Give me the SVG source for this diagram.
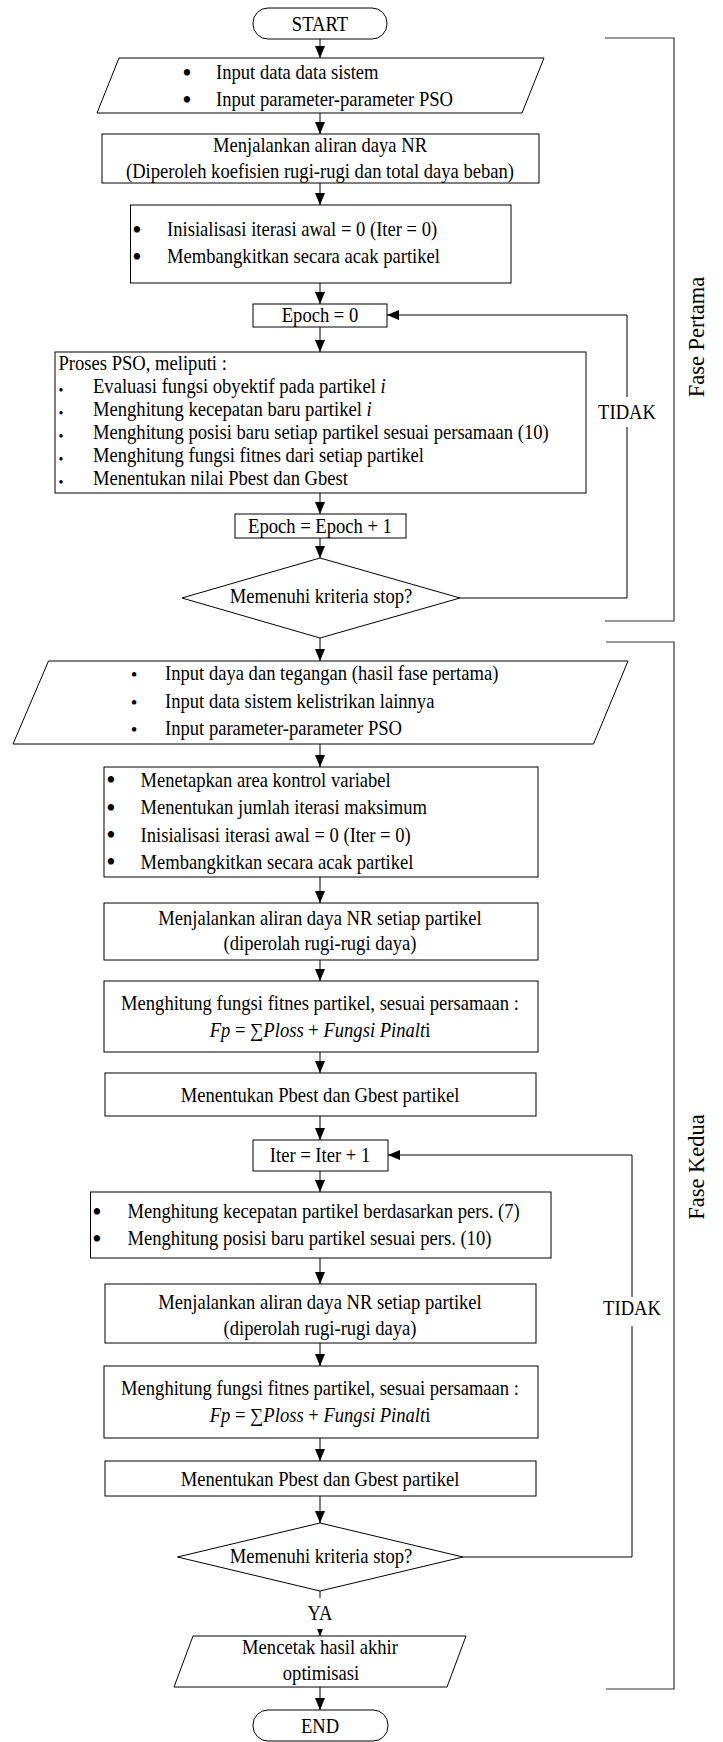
<svg xmlns="http://www.w3.org/2000/svg" width="723" height="1742" viewBox="0 0 723 1742">
<style>
.t{font-family:"Liberation Serif","Times New Roman",serif;font-size:20px;fill:#000}
.c{text-anchor:middle}
.i{font-style:italic}
.b{fill:#fff;stroke:#000;stroke-width:1}
.ln{fill:none;stroke:#000;stroke-width:1}
.br{fill:none;stroke:#333;stroke-width:1.2}
.bg{fill:#fff;stroke:none}
.f{font-family:"Liberation Serif","Times New Roman",serif;font-size:22.5px;fill:#000;text-anchor:middle}
.u1{font-size:26.5px}
.u2{font-size:26.5px}
.u3{font-size:19px}
.u4{font-size:14px}
</style>
<defs>
<marker id="ah" viewBox="0 0 12 10" markerWidth="12" markerHeight="10" refX="12" refY="5" orient="auto" markerUnits="userSpaceOnUse">
<path d="M0,0 L12,5 L0,10 z" fill="#000"/>
</marker>
</defs>
<rect width="723" height="1742" fill="#fff"/>

<g id="connectors">
<line class="ln" x1="320" y1="39" x2="320" y2="58" marker-end="url(#ah)"/>
<line class="ln" x1="320" y1="113" x2="320" y2="134" marker-end="url(#ah)"/>
<line class="ln" x1="320" y1="183" x2="320" y2="205" marker-end="url(#ah)"/>
<line class="ln" x1="320" y1="283" x2="320" y2="304" marker-end="url(#ah)"/>
<line class="ln" x1="320" y1="327" x2="320" y2="352" marker-end="url(#ah)"/>
<line class="ln" x1="320" y1="493" x2="320" y2="514" marker-end="url(#ah)"/>
<line class="ln" x1="320" y1="538" x2="320" y2="558" marker-end="url(#ah)"/>
<polyline class="ln" points="460,598 627,598 627,315 387,315" marker-end="url(#ah)"/>
<line class="ln" x1="320" y1="638" x2="320" y2="661" marker-end="url(#ah)"/>
<line class="ln" x1="320" y1="744" x2="320" y2="767" marker-end="url(#ah)"/>
<line class="ln" x1="320" y1="877" x2="320" y2="903" marker-end="url(#ah)"/>
<line class="ln" x1="320" y1="960" x2="320" y2="981" marker-end="url(#ah)"/>
<line class="ln" x1="320" y1="1052" x2="320" y2="1073" marker-end="url(#ah)"/>
<line class="ln" x1="320" y1="1116" x2="320" y2="1140" marker-end="url(#ah)"/>
<line class="ln" x1="320" y1="1171" x2="320" y2="1192" marker-end="url(#ah)"/>
<line class="ln" x1="320" y1="1258" x2="320" y2="1284" marker-end="url(#ah)"/>
<line class="ln" x1="320" y1="1343" x2="320" y2="1366" marker-end="url(#ah)"/>
<line class="ln" x1="320" y1="1438" x2="320" y2="1461" marker-end="url(#ah)"/>
<line class="ln" x1="320" y1="1496" x2="320" y2="1523" marker-end="url(#ah)"/>
<polyline class="ln" points="463,1557 632,1557 632,1155 388,1155" marker-end="url(#ah)"/>
<line class="ln" x1="320" y1="1591" x2="320" y2="1636" marker-end="url(#ah)"/>
<line class="ln" x1="320" y1="1687" x2="320" y2="1710" marker-end="url(#ah)"/>
<rect class="bg" x="598" y="397" width="58" height="30"/>
<text class="t c" transform="matrix(.93 0 0 1 627 419)">TIDAK</text>
<rect class="bg" x="603" y="1297" width="58" height="29"/>
<text class="t c" transform="matrix(.93 0 0 1 632 1315)">TIDAK</text>
<rect class="bg" x="305" y="1598" width="30" height="31"/>
<text class="t c" transform="matrix(.93 0 0 1 320 1620)">YA</text>
</g>

<g id="start">
<rect class="b" x="253" y="8" width="134" height="31" rx="15" ry="15"/>
<text class="t c" transform="matrix(.93 0 0 1 320 30.5)">START</text>
</g>

<g id="input1">
<polygon class="b" points="119,58 544,58 522,113 97,113"/>
<text class="t c u1"><tspan x="187" y="82">•</tspan><tspan x="187" y="109">•</tspan></text>
<text class="t" transform="matrix(.93 0 0 1 216 79)">Input data data sistem</text>
<text class="t" transform="matrix(.93 0 0 1 216 106)">Input parameter-parameter PSO</text>
</g>

<g id="nr1">
<rect class="b" x="102" y="134" width="437" height="49"/>
<text class="t c" transform="matrix(.93 0 0 1 320 152)">Menjalankan aliran daya NR</text>
<text class="t c" transform="matrix(.93 0 0 1 320 178)">(Diperoleh koefisien rugi-rugi dan total daya beban)</text>
</g>

<g id="init1">
<rect class="b" x="130.5" y="205" width="380.5" height="78"/>
<text class="t c u1"><tspan x="137" y="239">•</tspan><tspan x="137" y="266">•</tspan></text>
<text class="t" transform="matrix(.93 0 0 1 167 236)">Inisialisasi iterasi awal = 0 (Iter = 0)</text>
<text class="t" transform="matrix(.93 0 0 1 167 263)">Membangkitkan secara acak partikel</text>
</g>

<g id="epoch0">
<rect class="b" x="253" y="304" width="134" height="23"/>
<text class="t c" transform="matrix(.93 0 0 1 320 322)">Epoch = 0</text>
</g>

<g id="pso">
<rect class="b" x="55" y="352" width="531" height="141"/>
<text class="t" transform="matrix(.93 0 0 1 58.5 370)">Proses PSO, meliputi :</text>
<text class="t c u4"><tspan x="61" y="395">•</tspan><tspan x="61" y="418">•</tspan><tspan x="61" y="441">•</tspan><tspan x="61" y="464">•</tspan><tspan x="61" y="487">•</tspan></text>
<text class="t" transform="matrix(.93 0 0 1 93 393)">Evaluasi fungsi obyektif pada partikel <tspan class="i">i</tspan></text>
<text class="t" transform="matrix(.93 0 0 1 93 416)">Menghitung kecepatan baru partikel <tspan class="i">i</tspan></text>
<text class="t" transform="matrix(.93 0 0 1 93 439)">Menghitung posisi baru setiap partikel sesuai persamaan (10)</text>
<text class="t" transform="matrix(.93 0 0 1 93 462)">Menghitung fungsi fitnes dari setiap partikel</text>
<text class="t" transform="matrix(.93 0 0 1 93 485)">Menentukan nilai Pbest dan Gbest</text>
</g>

<g id="epoch1">
<rect class="b" x="235" y="514" width="171" height="24"/>
<text class="t c" transform="matrix(.93 0 0 1 320 532.5)">Epoch = Epoch + 1</text>
</g>

<g id="stop1">
<polygon class="b" points="320,558 460,598 320,638 182,598"/>
<text class="t c" transform="matrix(.93 0 0 1 321 603)">Memenuhi kriteria stop?</text>
</g>

<g id="input2">
<polygon class="b" points="48.5,661 628,661 593.5,744 13,744"/>
<text class="t c u3"><tspan x="134" y="681">•</tspan><tspan x="134" y="709">•</tspan><tspan x="134" y="736">•</tspan></text>
<text class="t" transform="matrix(.93 0 0 1 165 680)">Input daya dan tegangan (hasil fase pertama)</text>
<text class="t" transform="matrix(.93 0 0 1 165 707.5)">Input data sistem kelistrikan lainnya</text>
<text class="t" transform="matrix(.93 0 0 1 165 734.5)">Input parameter-parameter PSO</text>
</g>

<g id="init2">
<rect class="b" x="104" y="767" width="434" height="110"/>
<text class="t c u2"><tspan x="111" y="789">•</tspan><tspan x="111" y="816.5">•</tspan><tspan x="111" y="844">•</tspan><tspan x="111" y="871">•</tspan></text>
<text class="t" transform="matrix(.93 0 0 1 140.5 786.5)">Menetapkan area kontrol variabel</text>
<text class="t" transform="matrix(.93 0 0 1 140.5 814)">Menentukan jumlah iterasi maksimum</text>
<text class="t" transform="matrix(.93 0 0 1 140.5 841.5)">Inisialisasi iterasi awal = 0 (Iter = 0)</text>
<text class="t" transform="matrix(.93 0 0 1 140.5 868.5)">Membangkitkan secara acak partikel</text>
</g>

<g id="nr2">
<rect class="b" x="104" y="903" width="434" height="57"/>
<text class="t c" transform="matrix(.93 0 0 1 320 924.5)">Menjalankan aliran daya NR setiap partikel</text>
<text class="t c" transform="matrix(.93 0 0 1 320 950)">(diperolah rugi-rugi daya)</text>
</g>

<g id="fit1">
<rect class="b" x="104" y="981" width="434" height="71"/>
<text class="t c" transform="matrix(.93 0 0 1 320 1009.5)">Menghitung fungsi fitnes partikel, sesuai persamaan :</text>
<text class="t c" transform="matrix(.93 0 0 1 320 1036.5)"><tspan class="i">Fp</tspan> = ∑<tspan class="i">Ploss</tspan> + <tspan class="i">Fungsi Pinalt</tspan>i</text>
</g>

<g id="best1">
<rect class="b" x="105" y="1073" width="431" height="43"/>
<text class="t c" transform="matrix(.93 0 0 1 320 1101.5)">Menentukan Pbest dan Gbest partikel</text>
</g>

<g id="iter">
<rect class="b" x="253" y="1140" width="135" height="31"/>
<text class="t c" transform="matrix(.93 0 0 1 320 1162)">Iter = Iter + 1</text>
</g>

<g id="update">
<rect class="b" x="90.5" y="1192" width="460.5" height="66"/>
<text class="t c u2"><tspan x="97" y="1220.5">•</tspan><tspan x="97" y="1247.5">•</tspan></text>
<text class="t" transform="matrix(.93 0 0 1 127.5 1218)">Menghitung kecepatan partikel berdasarkan pers. (7)</text>
<text class="t" transform="matrix(.93 0 0 1 127.5 1245)">Menghitung posisi baru partikel sesuai pers. (10)</text>
</g>

<g id="nr3">
<rect class="b" x="105" y="1284" width="431" height="59"/>
<text class="t c" transform="matrix(.93 0 0 1 320 1308.5)">Menjalankan aliran daya NR setiap partikel</text>
<text class="t c" transform="matrix(.93 0 0 1 320 1335)">(diperolah rugi-rugi daya)</text>
</g>

<g id="fit2">
<rect class="b" x="104" y="1366" width="434" height="72"/>
<text class="t c" transform="matrix(.93 0 0 1 320 1395)">Menghitung fungsi fitnes partikel, sesuai persamaan :</text>
<text class="t c" transform="matrix(.93 0 0 1 320 1421.5)"><tspan class="i">Fp</tspan> = ∑<tspan class="i">Ploss</tspan> + <tspan class="i">Fungsi Pinalt</tspan>i</text>
</g>

<g id="best2">
<rect class="b" x="105" y="1461" width="431" height="35"/>
<text class="t c" transform="matrix(.93 0 0 1 320 1485.5)">Menentukan Pbest dan Gbest partikel</text>
</g>

<g id="stop2">
<polygon class="b" points="320,1523 463,1557 320,1591 177.5,1557"/>
<text class="t c" transform="matrix(.93 0 0 1 321 1563)">Memenuhi kriteria stop?</text>
</g>

<g id="output">
<polygon class="b" points="193,1636 466,1636 447,1687 174,1687"/>
<text class="t c" transform="matrix(.93 0 0 1 320 1653.5)">Mencetak hasil akhir</text>
<text class="t c" transform="matrix(.93 0 0 1 321 1680)">optimisasi</text>
</g>

<g id="end">
<rect class="b" x="253" y="1710" width="135" height="31" rx="15" ry="15"/>
<text class="t c" transform="matrix(.93 0 0 1 320 1733)">END</text>
</g>

<g id="fase-pertama">
<polyline class="br" points="605,38 674,38 674,621 605,621"/>
<text class="f" transform="translate(704 337) rotate(-90)">Fase Pertama</text>
</g>

<g id="fase-kedua">
<polyline class="br" points="606,642 674,642 674,1689 606,1689"/>
<text class="f" transform="translate(704 1167) rotate(-90)">Fase Kedua</text>
</g>
</svg>
